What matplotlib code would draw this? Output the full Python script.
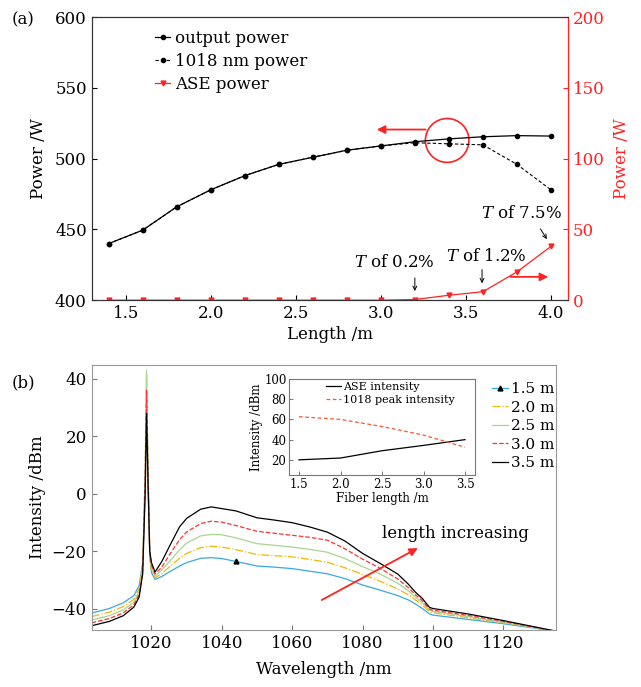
import matplotlib
matplotlib.use("Agg")
import matplotlib.pyplot as plt
from matplotlib.patches import Ellipse

plt.rcParams['font.family'] = 'DejaVu Serif'
plt.rcParams['mathtext.fontset'] = 'dejavuserif'
plt.rcParams['xtick.direction'] = 'in'
plt.rcParams['ytick.direction'] = 'in'

# --- (a) power vs. fiber length ---
length = [1.4, 1.6, 1.8, 2.0, 2.2, 2.4, 2.6, 2.8, 3.0, 3.2, 3.4, 3.6, 3.8, 4.0]
output_power = [440, 449.5, 466, 478, 488, 496, 501, 506, 509, 512, 514, 515.5, 516.3, 516]
power_1018 = [440, 449.5, 466, 478, 488, 496, 501, 506, 509, 511.3, 510.5, 509.8, 496, 478]
ase_power = [0, 0, 0, 0, 0, 0, 0, 0, 0, 0.5, 3.5, 6, 20, 38]

# --- (b) spectra for different fiber lengths ---
wavelength = [1003, 1008, 1012, 1015, 1016.5, 1017.5, 1018.2, 1018.6, 1019.0, 1019.5,
              1020, 1021, 1023, 1025, 1028, 1030, 1034, 1037, 1040, 1044,
              1050, 1055, 1060, 1065, 1070, 1075, 1080, 1085, 1090, 1093,
              1095, 1097, 1099, 1100, 1110, 1120, 1135]
spec_15 = [-41.6, -40, -38, -35.5, -32, -24, 0, 30, 5, -22,
           -27.5, -29.9, -28.8, -27.3, -25.2, -24, -22.5, -22.3, -22.6, -23.6,
           -25.2, -25.6, -26.1, -27, -27.9, -29.6, -31.8, -33.6, -35.5, -37,
           -38.4, -40, -41.9, -42.3, -43.8, -45.3, -47.9]
spec_20 = [-42.8, -41.3, -39.3, -36.8, -33, -25, 6, 42, 9, -21,
           -27, -29.3, -27.8, -25.6, -22.5, -20.8, -18.8, -18.3, -18.6, -19.5,
           -21.2, -21.6, -22, -22.9, -23.9, -25.8, -28.1, -30.5, -33.2, -35.2,
           -37, -38.8, -41.1, -41.5, -43.2, -45, -47.9]
spec_25 = [-44, -42.5, -40.5, -37.8, -34, -26, 8, 43, 10, -20,
           -26, -28.8, -26.5, -23.8, -19.5, -17.2, -14.7, -14.2, -14.3, -15.4,
           -17.4, -18, -18.6, -19.4, -20.4, -22.6, -25.4, -28, -31.2, -33.8,
           -36.1, -38, -40.6, -41, -42.8, -44.8, -47.9]
spec_30 = [-45, -43.5, -41.5, -38.7, -35, -27, 5, 36, 8, -20,
           -25, -28, -25.5, -21.5, -16, -13.3, -10.4, -9.6, -9.9, -11.1,
           -13.1, -13.8, -14.5, -15.2, -16.2, -19.2, -22.8, -26, -29.7, -32.7,
           -35.2, -37.3, -40.2, -40.6, -42.4, -44.5, -47.9]
spec_35 = [-46, -44.5, -42.5, -39.5, -36, -28, 0, 28, 5, -20,
           -24, -27.3, -23.5, -18.6, -11.5, -8.6, -5.4, -4.6, -5.2, -6.0,
           -8.4, -9.2, -10.1, -11.6, -13.4, -16.5, -20.8, -24.3, -28, -31.5,
           -34.3, -36.5, -39.6, -40, -41.9, -44.2, -47.9]
spec_labels = ['1.5 m', '2.0 m', '2.5 m', '3.0 m', '3.5 m']

# --- inset ---
fiber_len = [1.5, 2.0, 2.5, 3.0, 3.5]
ase_intensity = [20, 21.8, 29, 34.3, 40]
peak_intensity = [62.7, 60, 53, 44.5, 32.5]

red = '#ff2222'

fig = plt.figure(figsize=(6.41, 6.87), dpi=100)

# ================= (a) =================
ax = fig.add_axes([0.143, 0.563, 0.743, 0.412])
ax2 = ax.twinx()
l1, = ax.plot(length, output_power, '-', color='k', lw=0.9, marker='o', ms=3,
              label='output power')
l2, = ax.plot(length, power_1018, '--', color='k', lw=0.8, marker='o', ms=3,
              dashes=(3, 2), label='1018 nm power')
l3, = ax2.plot(length, ase_power, '-', color=red, lw=0.9, marker='v', ms=3.5,
               label='ASE power')
ax.set_xlim(1.3, 4.1)
ax.set_ylim(400, 600)
ax2.set_ylim(0, 200)
ax.set_xticks([1.5, 2.0, 2.5, 3.0, 3.5, 4.0])
ax.set_yticks([400, 450, 500, 550, 600])
ax2.set_yticks([0, 50, 100, 150, 200])
ax.tick_params(labelsize=12, length=3.5, width=0.8)
ax2.tick_params(labelsize=12, length=3.5, width=0.8, colors=red)
ax.set_xlabel('Length /m', fontsize=12, labelpad=3)
ax.set_ylabel('Power /W', fontsize=12, labelpad=6)
ax2.set_ylabel('Power /W', fontsize=12, color=red, labelpad=6)
for s in ['left', 'bottom', 'top']:
    ax.spines[s].set_color('#333333')
    ax2.spines[s].set_color('#333333')
ax2.spines['right'].set_color(red)
ax.legend(handles=[l1, l2, l3], loc='upper left', bbox_to_anchor=(0.133, 0.955),
          frameon=False, fontsize=12, handlelength=0.9, handletextpad=0.3,
          labelspacing=0.35, borderpad=0, borderaxespad=0)

ax.add_patch(Ellipse((3.39, 512.9), 0.256, 31, fill=False, ec=red, lw=1.2))
ax.annotate('', xy=(2.96, 520.6), xytext=(3.28, 520.6),
            arrowprops=dict(arrowstyle='-|>', color=red, lw=1.3, mutation_scale=12))
ax2.annotate('', xy=(4.0, 16.5), xytext=(3.745, 16.5),
             arrowprops=dict(arrowstyle='-|>', color=red, lw=1.3, mutation_scale=12))

ax2.text(3.078, 26.9, '$T$ of 0.2%', fontsize=12, ha='center', va='center')
ax2.annotate('', xy=(3.2, 4.5), xytext=(3.2, 17.7),
             arrowprops=dict(arrowstyle='->', color='k', lw=0.7, mutation_scale=7))
ax2.text(3.62, 30.6, '$T$ of 1.2%', fontsize=12, ha='center', va='center')
ax2.annotate('', xy=(3.595, 10.0), xytext=(3.595, 23.6),
             arrowprops=dict(arrowstyle='->', color='k', lw=0.7, mutation_scale=7))
ax2.text(3.83, 61.5, '$T$ of 7.5%', fontsize=12, ha='center', va='center')
ax2.annotate('', xy=(3.985, 41.5), xytext=(3.93, 52),
             arrowprops=dict(arrowstyle='->', color='k', lw=0.7, mutation_scale=7))

fig.text(0.018, 0.971, '(a)', fontsize=12, ha='left', va='center')

# ================= (b) =================
bx = fig.add_axes([0.143, 0.0825, 0.7245, 0.3865])
colors = ['#3aa8e2', '#f2b705', '#a8d590', '#ff3333', 'k']
styles = ['-', '-.', '-', '--', '-']
spectra = [spec_15, spec_20, spec_25, spec_30, spec_35]
for vals, c, ls, lab in zip(spectra, colors, styles, spec_labels):
    if lab == '1.5 m':
        bx.plot(wavelength, vals, ls, color=c, lw=0.9, label=lab, marker='^',
                ms=3.5, mfc='k', mec='k', markevery=[19])
    else:
        bx.plot(wavelength, vals, ls, color=c, lw=0.9, label=lab)
bx.set_xlim(1003, 1135)
bx.set_ylim(-47.6, 44.9)
bx.set_xticks([1020, 1040, 1060, 1080, 1100, 1120])
bx.set_yticks([-40, -20, 0, 20, 40])
bx.tick_params(labelsize=12, length=3.5, width=0.8, color='#777777')
bx.set_xlabel('Wavelength /nm', fontsize=12, labelpad=6)
bx.set_ylabel('Intensity /dBm', fontsize=12, labelpad=4)
for s in bx.spines.values():
    s.set_color('#999999')
bx.legend(loc='upper left', bbox_to_anchor=(0.861, 0.935), frameon=False,
          fontsize=11, handlelength=1.05, handletextpad=0.2, labelspacing=0.3,
          borderpad=0, borderaxespad=0)
bx.text(1106.5, -13.8, 'length increasing', fontsize=12, ha='center', va='center')
bx.annotate('', xy=(1096.4, -18.5), xytext=(1067.7, -37.5),
            arrowprops=dict(arrowstyle='-|>', color=red, lw=1.3, mutation_scale=12))
fig.text(0.018, 0.443, '(b)', fontsize=12, ha='left', va='center')

# inset
ins = fig.add_axes([0.4513, 0.3086, 0.2897, 0.1397])
ins.plot(fiber_len, ase_intensity, '-', color='k', lw=0.9, label='ASE intensity')
ins.plot(fiber_len, peak_intensity, '--', color='#ff5533', lw=0.9, dashes=(3, 2),
         label='1018 peak intensity')
ins.set_xlim(1.383, 3.62)
ins.set_ylim(5, 100)
ins.set_xticks([1.5, 2.0, 2.5, 3.0, 3.5])
ins.set_yticks([20, 40, 60, 80, 100])
ins.tick_params(labelsize=8.5, length=3, width=0.7, color='#777777', pad=2)
ins.set_xlabel('Fiber length /m', fontsize=8.5, labelpad=1)
ins.set_ylabel('Intensity /dBm', fontsize=8.5, labelpad=1)
for s in ins.spines.values():
    s.set_color('#777777')
ins.legend(loc='upper left', bbox_to_anchor=(0.2, 0.97), frameon=False,
           fontsize=8, handlelength=1.35, handletextpad=0.15, labelspacing=0.3,
           borderpad=0, borderaxespad=0)

fig.savefig('out.png', dpi=100)
